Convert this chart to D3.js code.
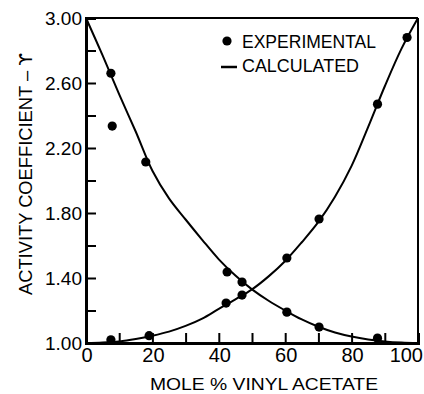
<!DOCTYPE html>
<html>
<head>
<meta charset="utf-8">
<script src="https://cdn.jsdelivr.net/npm/d3@7"></script>
<style>
  html, body { margin: 0; padding: 0; background: #fff; }
  svg { display: block; font-family: 'Liberation Sans', Arial, sans-serif; }
</style>
</head>
<body>
<div id="chart"></div>
<script>
// calculated curves
const calcX = [0, 5, 10, 15, 20, 25, 30, 35, 40, 45, 50, 55, 60, 65, 70, 75, 80, 85, 90, 95, 100];
const calcFalling = [3.00, 2.77, 2.53, 2.30, 2.06, 1.89, 1.76, 1.635, 1.515, 1.415, 1.33, 1.26, 1.20, 1.145, 1.10, 1.065, 1.04, 1.022, 1.01, 1.003, 1.00];
const calcRising = [1.00, 1.003, 1.01, 1.025, 1.045, 1.07, 1.105, 1.15, 1.21, 1.268, 1.33, 1.41, 1.505, 1.62, 1.745, 1.90, 2.09, 2.33, 2.58, 2.81, 3.00];

// experimental points
const expFallX = [7.5, 7.9, 18, 42.5, 47, 60.5, 70.2, 87.8];
const expFallY = [2.66, 2.335, 2.114, 1.437, 1.375, 1.19, 1.098, 1.03];
const expRiseX = [7.5, 19, 42.2, 47, 60.5, 70.2, 87.8, 96.7];
const expRiseY = [1.02, 1.045, 1.246, 1.295, 1.523, 1.763, 2.47, 2.88];

const xTickLabels = [0, 20, 40, 60, 80, 100];
const yTickLabels = [1.00, 1.40, 1.80, 2.20, 2.60, 3.00];

const width = 424, height = 394;
const svg = d3.select('#chart').append('svg')
  .attr('width', width)
  .attr('height', height);

const x = d3.scaleLinear().domain([0, 100]).range([86, 418]);
const y = d3.scaleLinear().domain([1, 3]).range([343, 18]);

// frame
svg.append('line').attr('x1', x(0)).attr('x2', x(100)).attr('y1', y(3)).attr('y2', y(3))
  .attr('stroke', '#000').attr('stroke-width', 2);
svg.append('line').attr('x1', x(100)).attr('x2', x(100)).attr('y1', y(3)).attr('y2', y(1))
  .attr('stroke', '#000').attr('stroke-width', 2);

// ticks point inward
const xAxis = svg.append('g')
  .attr('transform', `translate(0,${y(1)})`)
  .call(d3.axisBottom(x).tickValues(d3.range(10, 100, 10)).tickSize(-10).tickFormat(''));
const yAxis = svg.append('g')
  .attr('transform', `translate(${x(0)},0)`)
  .call(d3.axisLeft(y).tickValues(d3.range(1.2, 2.9, 0.2)).tickSize(-10).tickFormat(''));
[xAxis, yAxis].forEach(g => {
  g.select('.domain').attr('stroke', '#000').attr('stroke-width', 3);
  g.selectAll('.tick line').attr('stroke', '#000').attr('stroke-width', 2);
});

// tick labels
svg.append('g').selectAll('text')
  .data(xTickLabels)
  .join('text')
  .attr('x', d => d === 100 ? 423 : x(d) + 1)
  .attr('y', 362)
  .attr('text-anchor', d => d === 100 ? 'end' : 'middle')
  .style('font-size', '20px')
  .text(d => d);

svg.append('g').selectAll('text')
  .data(yTickLabels)
  .join('text')
  .attr('x', 82)
  .attr('y', d => y(d))
  .attr('dy', '0.36em')
  .attr('text-anchor', 'end')
  .style('font-size', '19px')
  .text(d => d.toFixed(2));

// axis titles
svg.append('text')
  .attr('x', 150)
  .attr('y', 390)
  .attr('textLength', 228)
  .attr('lengthAdjust', 'spacingAndGlyphs')
  .style('font-size', '17px')
  .text('MOLE % VINYL ACETATE');

const yTitle = svg.append('text')
  .attr('transform', 'translate(32,295) rotate(-90)')
  .style('font-size', '18px');
yTitle.append('tspan').text('ACTIVITY COEFFICIENT – ');
yTitle.append('tspan').style('font-family', "'DejaVu Sans', sans-serif").text('ϒ');
yTitle.attr('textLength', 242).attr('lengthAdjust', 'spacingAndGlyphs');

// calculated curves
const line = d3.line()
  .x(d => x(d[0]))
  .y(d => y(d[1]))
  .curve(d3.curveCatmullRom.alpha(0.5));

[calcFalling, calcRising].forEach(vals => {
  svg.append('path')
    .datum(calcX.map((v, i) => [v, vals[i]]))
    .attr('d', line)
    .attr('fill', 'none')
    .attr('stroke', '#000')
    .attr('stroke-width', 2);
});

// experimental points
const pts = expFallX.map((v, i) => [v, expFallY[i]])
  .concat(expRiseX.map((v, i) => [v, expRiseY[i]]));
svg.append('g').selectAll('circle')
  .data(pts)
  .join('circle')
  .attr('cx', d => x(d[0]))
  .attr('cy', d => y(d[1]))
  .attr('r', 4.6)
  .attr('fill', '#000');

// legend
svg.append('circle').attr('cx', 227).attr('cy', 41).attr('r', 4.6).attr('fill', '#000');
svg.append('text')
  .attr('x', 242).attr('y', 48)
  .attr('textLength', 134)
  .attr('lengthAdjust', 'spacingAndGlyphs')
  .style('font-size', '18px')
  .text('EXPERIMENTAL');
svg.append('line')
  .attr('x1', 221).attr('x2', 237).attr('y1', 67).attr('y2', 67)
  .attr('stroke', '#000').attr('stroke-width', 2.5);
svg.append('text')
  .attr('x', 242).attr('y', 72)
  .attr('textLength', 117)
  .attr('lengthAdjust', 'spacingAndGlyphs')
  .style('font-size', '18px')
  .text('CALCULATED');
</script>
</body>
</html>
